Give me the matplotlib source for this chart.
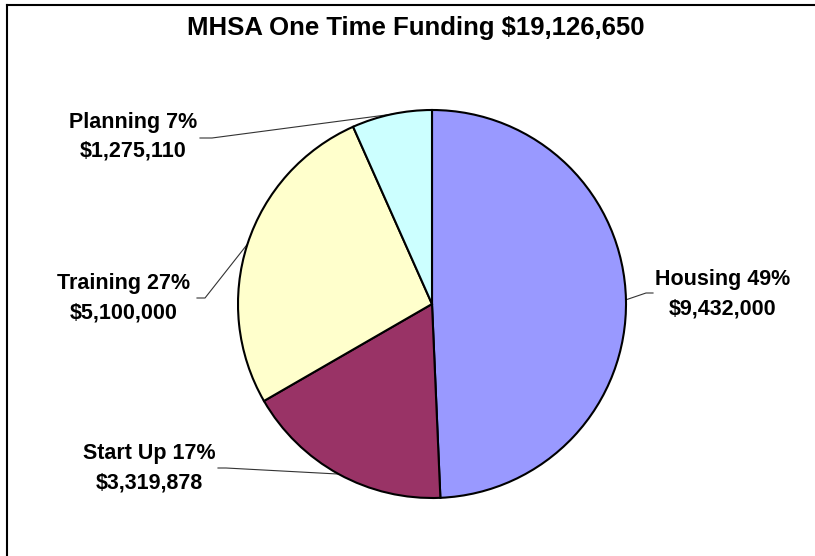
import matplotlib
matplotlib.use("Agg")
import matplotlib.pyplot as plt
import numpy as np
from matplotlib.lines import Line2D

plt.rcParams["font.family"] = ["Liberation Sans", "DejaVu Sans"]

# data
categories = ["Housing", "Start Up", "Training", "Planning"]
amounts = [9432000, 3319878, 5100000, 1275110]
percents = [49, 17, 27, 7]
colors = ["#9999FF", "#993366", "#FFFFCC", "#CCFFFF"]
title = "MHSA One Time Funding $19,126,650"

W, H = 815, 556
cx, cy, R = 432, 304, 194  # pie centre / radius in pixels

fig = plt.figure(figsize=(W / 100, H / 100), dpi=100)
ax = fig.add_axes([(cx - R) / W, (H - cy - R) / H, 2 * R / W, 2 * R / H])

wedges, _ = ax.pie(amounts, colors=colors, startangle=90, counterclock=False,
                   radius=1.0, wedgeprops=dict(edgecolor="black", linewidth=1.5))
ax.set_xlim(-1, 1)
ax.set_ylim(-1, 1)
ax.set_aspect("equal")
ax.axis("off")


def to_data(px, py):
    return (px - cx) / R, (cy - py) / R


# label block centre, stub start, stub end (pixels)
label_pos = {
    "Housing": ((723, 294), (653, 293), (646, 293)),
    "Start Up": ((149, 468), (218, 468), (226, 468)),
    "Training": ((124, 298), (197, 298), (205, 298)),
    "Planning": ((133, 137), (200, 138), (212, 138)),
}

for w, name, amt, pct in zip(wedges, categories, amounts, percents):
    mid = np.deg2rad((w.theta1 + w.theta2) / 2)
    ax_pt = (np.cos(mid), np.sin(mid))
    (tx, ty), s0, s1 = label_pos[name]
    x, y = to_data(tx, ty)
    ax.text(x, y, f"{name} {pct}%\n${amt:,.0f}", ha="center", va="center",
            fontsize=15.5, fontweight="bold", linespacing=1.5, clip_on=False)
    p0, p1 = to_data(*s0), to_data(*s1)
    ax.plot([p0[0], p1[0], ax_pt[0]], [p0[1], p1[1], ax_pt[1]],
            color="#333333", lw=0.8, clip_on=False, zorder=0.5)

fig.text(0.5 * (188 + 643) / W, 1 - 28 / H, title, ha="center", va="center",
         fontsize=18.5, fontweight="bold")

# chart area frame (top and left edges visible)
fig.add_artist(Line2D([7 / W, 1], [1 - 4.5 / H] * 2, color="black", lw=1.5))
fig.add_artist(Line2D([7 / W] * 2, [0, 1 - 4.5 / H], color="black", lw=1.5))

fig.savefig("out.png", dpi=100)
